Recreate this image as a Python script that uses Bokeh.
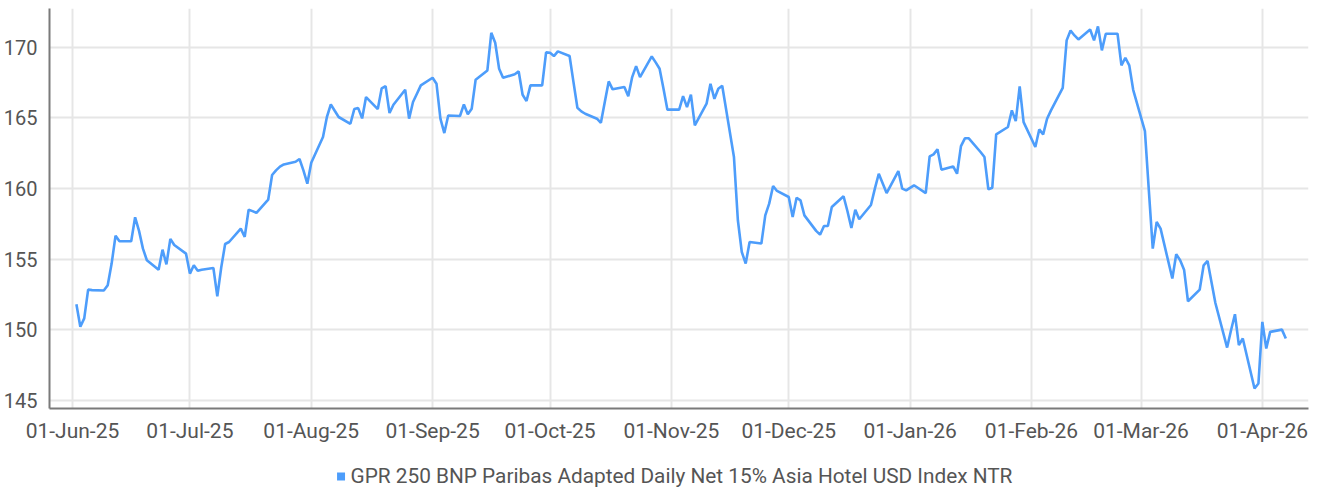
import pandas as pd
from datetime import datetime
from bokeh.plotting import figure
from bokeh.layouts import column
from bokeh.models import (Range1d, FixedTicker, DatetimeTickFormatter, Legend, LegendItem)
from bokeh.embed import file_html
from bokeh.resources import INLINE

series_name = "GPR 250 BNP Paribas Adapted Daily Net 15% Asia Hotel USD Index NTR"

dates = [
    "2025-06-02", "2025-06-03", "2025-06-04", "2025-06-05", "2025-06-06", "2025-06-09", "2025-06-10",
    "2025-06-11", "2025-06-12", "2025-06-13", "2025-06-16", "2025-06-17", "2025-06-18", "2025-06-19",
    "2025-06-20", "2025-06-23", "2025-06-24", "2025-06-25", "2025-06-26", "2025-06-27", "2025-06-30",
    "2025-07-01", "2025-07-02", "2025-07-03", "2025-07-04", "2025-07-07", "2025-07-08", "2025-07-09",
    "2025-07-10", "2025-07-11", "2025-07-14", "2025-07-15", "2025-07-16", "2025-07-17", "2025-07-18",
    "2025-07-21", "2025-07-22", "2025-07-23", "2025-07-24", "2025-07-25", "2025-07-28", "2025-07-29",
    "2025-07-30", "2025-07-31", "2025-08-01", "2025-08-04", "2025-08-05", "2025-08-06", "2025-08-07",
    "2025-08-08", "2025-08-11", "2025-08-12", "2025-08-13", "2025-08-14", "2025-08-15", "2025-08-18",
    "2025-08-19", "2025-08-20", "2025-08-21", "2025-08-22", "2025-08-25", "2025-08-26", "2025-08-27",
    "2025-08-28", "2025-08-29", "2025-09-01", "2025-09-02", "2025-09-03", "2025-09-04", "2025-09-05",
    "2025-09-08", "2025-09-09", "2025-09-10", "2025-09-11", "2025-09-12", "2025-09-15", "2025-09-16",
    "2025-09-17", "2025-09-18", "2025-09-19", "2025-09-22", "2025-09-23", "2025-09-24", "2025-09-25",
    "2025-09-26", "2025-09-29", "2025-09-30", "2025-10-01", "2025-10-02", "2025-10-03", "2025-10-06",
    "2025-10-07", "2025-10-08", "2025-10-09", "2025-10-10", "2025-10-13", "2025-10-14", "2025-10-15",
    "2025-10-16", "2025-10-17", "2025-10-20", "2025-10-21", "2025-10-22", "2025-10-23", "2025-10-24",
    "2025-10-27", "2025-10-28", "2025-10-29", "2025-10-30", "2025-10-31", "2025-11-03", "2025-11-04",
    "2025-11-05", "2025-11-06", "2025-11-07", "2025-11-10", "2025-11-11", "2025-11-12", "2025-11-13",
    "2025-11-14", "2025-11-17", "2025-11-18", "2025-11-19", "2025-11-20", "2025-11-21", "2025-11-24",
    "2025-11-25", "2025-11-26", "2025-11-27", "2025-11-28", "2025-12-01", "2025-12-02", "2025-12-03",
    "2025-12-04", "2025-12-05", "2025-12-08", "2025-12-09", "2025-12-10", "2025-12-11", "2025-12-12",
    "2025-12-15", "2025-12-16", "2025-12-17", "2025-12-18", "2025-12-19", "2025-12-22", "2025-12-23",
    "2025-12-24", "2025-12-26", "2025-12-29", "2025-12-30", "2025-12-31", "2026-01-02", "2026-01-05",
    "2026-01-06", "2026-01-07", "2026-01-08", "2026-01-09", "2026-01-12", "2026-01-13", "2026-01-14",
    "2026-01-15", "2026-01-16", "2026-01-19", "2026-01-20", "2026-01-21", "2026-01-22", "2026-01-23",
    "2026-01-26", "2026-01-27", "2026-01-28", "2026-01-29", "2026-01-30", "2026-02-02", "2026-02-03",
    "2026-02-04", "2026-02-05", "2026-02-06", "2026-02-09", "2026-02-10", "2026-02-11", "2026-02-12",
    "2026-02-13", "2026-02-16", "2026-02-17", "2026-02-18", "2026-02-19", "2026-02-20", "2026-02-23",
    "2026-02-24", "2026-02-25", "2026-02-26", "2026-02-27", "2026-03-02", "2026-03-03", "2026-03-04",
    "2026-03-05", "2026-03-06", "2026-03-09", "2026-03-10", "2026-03-11", "2026-03-12", "2026-03-13",
    "2026-03-16", "2026-03-17", "2026-03-18", "2026-03-19", "2026-03-20", "2026-03-23", "2026-03-24",
    "2026-03-25", "2026-03-26", "2026-03-27", "2026-03-30", "2026-03-31", "2026-04-01", "2026-04-02",
    "2026-04-03", "2026-04-06", "2026-04-07",
]

values = [
    151.80, 150.20, 150.80, 152.84, 152.80, 152.77, 153.15,
    154.68, 156.66, 156.26, 156.26, 157.96, 157.00, 155.74,
    154.92, 154.25, 155.67, 154.63, 156.43, 156.00, 155.39,
    153.97, 154.56, 154.18, 154.25, 154.37, 152.36, 154.40,
    156.07, 156.21, 157.16, 156.57, 158.50, 158.40, 158.27,
    159.21, 160.96, 161.29, 161.55, 161.71, 161.90, 162.09,
    161.29, 160.34, 161.83, 163.65, 165.07, 165.96, 165.51,
    165.07, 164.59, 165.63, 165.70, 164.97, 166.48, 165.63,
    167.10, 167.26, 165.35, 165.94, 167.00, 164.95, 166.13,
    166.72, 167.31, 167.85, 167.43, 164.95, 163.93, 165.18,
    165.14, 165.96, 165.26, 165.66, 167.71, 168.37, 171.04,
    170.33, 168.49, 167.85, 168.10, 168.30, 166.65, 166.20,
    167.31, 167.31, 169.65, 169.62, 169.39, 169.72, 169.39,
    167.54, 165.73, 165.47, 165.30, 164.95, 164.66, 166.13,
    167.59, 167.03, 167.19, 166.55, 167.90, 168.68, 167.90,
    169.36, 168.94, 168.49, 167.07, 165.59, 165.59, 166.55,
    165.77, 166.65, 164.48, 166.01, 167.43, 166.36, 167.07,
    167.29, 162.23, 157.75, 155.50, 154.68, 156.21, 156.10,
    158.10, 158.93, 160.18, 159.83, 159.40, 157.98, 159.35,
    159.16, 158.10, 157.00, 156.73, 157.35, 157.35, 158.69,
    159.45, 158.39, 157.20, 158.50, 157.82, 158.83, 159.99,
    161.05, 159.68, 161.24, 159.99, 159.87, 160.23, 159.68,
    162.28, 162.42, 162.78, 161.34, 161.57, 161.05, 163.01,
    163.56, 163.56, 162.59, 162.23, 159.94, 160.06, 163.84,
    164.36, 165.54, 164.78, 167.24, 164.71, 162.94, 164.19,
    163.84, 164.95, 165.54, 167.14, 170.50, 171.20, 170.85,
    170.57, 171.27, 170.50, 171.49, 169.79, 170.97, 170.97,
    168.73, 169.27, 168.73, 167.00, 164.07, 159.87, 155.74,
    157.63, 157.16, 153.62, 155.34, 154.92, 154.25, 152.01,
    152.84, 154.56, 154.87, 153.38, 151.89, 148.73, 149.96,
    151.09, 148.90, 149.37, 145.83, 146.18, 150.55, 148.66,
    149.84, 150.00, 149.37,
]

y_ticks = [145, 150, 155, 160, 165, 170]
month_ticks = ["2025-06-01", "2025-07-01", "2025-08-01", "2025-09-01", "2025-10-01",
               "2025-11-01", "2025-12-01", "2026-01-01", "2026-02-01", "2026-03-01", "2026-04-01"]

x = pd.to_datetime(dates)
FONT = "Roboto"
TXT = "#555555"
BLUE = "#4d9dfb"

p = figure(frame_width=1259, frame_height=400, x_axis_type="datetime",
           output_backend="svg", toolbar_location=None,
           x_range=Range1d(datetime(2025, 5, 26, 3), datetime(2026, 4, 12, 19)),
           y_range=Range1d(144.41, 172.76),
           min_border_left=40, min_border_right=2, min_border_top=8, min_border_bottom=45)
p.outline_line_color = None
p.background_fill_color = "white"

p.line(x, values, line_color=BLUE, line_width=2.6)

tick_ms = [pd.Timestamp(d).value / 1e6 for d in month_ticks]
p.xaxis.ticker = FixedTicker(ticks=tick_ms)
fmt = "%d-%b-%y"
p.xaxis.formatter = DatetimeTickFormatter(days=fmt, months=fmt, years=fmt, hours=fmt,
                                          minutes=fmt, seconds=fmt, milliseconds=fmt,
                                          microseconds=fmt, minsec=fmt, hourmin=fmt)
p.yaxis.ticker = FixedTicker(ticks=y_ticks)

for ax in (p.xaxis[0], p.yaxis[0]):
    ax.axis_line_color = "#7a7a7a"
    ax.axis_line_width = 2
    ax.major_tick_line_color = None
    ax.minor_tick_line_color = None
    ax.major_label_text_font = FONT
    ax.major_label_text_color = TXT
p.yaxis.major_label_text_font_size = "20px"
p.xaxis.major_label_text_font_size = "21px"
p.xaxis.major_label_standoff = 4
p.yaxis.major_label_standoff = 6

p.xgrid.ticker = FixedTicker(ticks=tick_ms)
p.ygrid.ticker = FixedTicker(ticks=y_ticks)
for g in (p.xgrid[0], p.ygrid[0]):
    g.grid_line_color = "#e6e6e6"
    g.grid_line_width = 2

# legend strip below the chart (its swatch glyph sits outside the visible range)
p2 = figure(width=1301, height=46, output_backend="svg", toolbar_location=None,
            x_range=Range1d(0, 1), y_range=Range1d(0, 1),
            x_axis_location=None, y_axis_location=None,
            min_border_left=26, min_border_right=0, min_border_top=0, min_border_bottom=0)
p2.outline_line_color = None
p2.grid.visible = False
sw = p2.quad(left=[5], right=[6], bottom=[5], top=[6], fill_color=BLUE, line_color=None)
legend = Legend(items=[LegendItem(label=series_name, renderers=[sw])],
                location="center", orientation="horizontal",
                label_text_font=FONT, label_text_font_size="20.8px", label_text_color=TXT,
                glyph_width=10, glyph_height=10, label_standoff=5,
                border_line_color=None, background_fill_alpha=0,
                margin=0, padding=0)
p2.add_layout(legend, "center")

layout = column(p, p2, spacing=0)
open("out.html", "w").write(file_html(layout, INLINE))
